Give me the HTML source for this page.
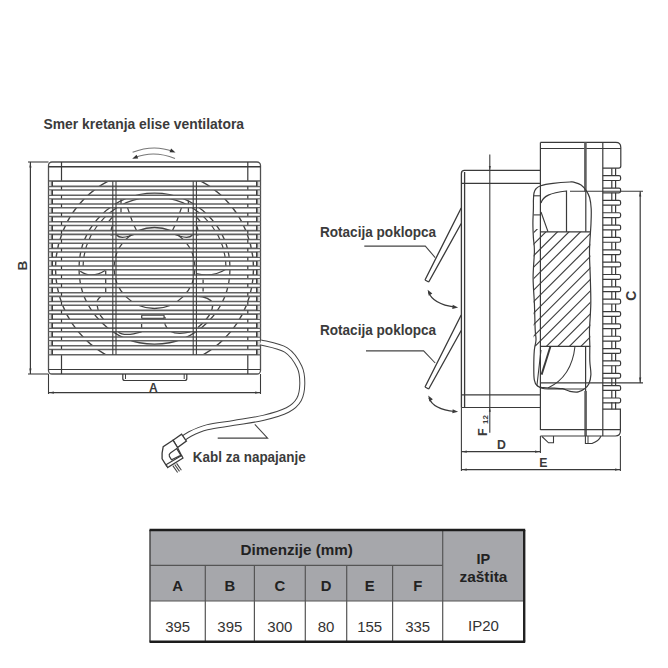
<!DOCTYPE html>
<html><head><meta charset="utf-8"><style>
html,body{margin:0;padding:0;background:#fff;width:668px;height:668px;overflow:hidden}
svg{display:block;font-family:"Liberation Sans",sans-serif}
</style></head><body>
<svg width="668" height="668" viewBox="0 0 668 668">
<clipPath id="slatclip"><rect x="48.5" y="181.20" width="212.0" height="5.15"/><rect x="48.5" y="190.06" width="212.0" height="5.15"/><rect x="48.5" y="198.92" width="212.0" height="5.15"/><rect x="48.5" y="207.78" width="212.0" height="5.15"/><rect x="48.5" y="216.64" width="212.0" height="5.15"/><rect x="48.5" y="225.50" width="212.0" height="5.15"/><rect x="48.5" y="234.36" width="212.0" height="5.15"/><rect x="48.5" y="243.22" width="212.0" height="5.15"/><rect x="48.5" y="252.08" width="212.0" height="5.15"/><rect x="48.5" y="260.94" width="212.0" height="5.15"/><rect x="48.5" y="269.80" width="212.0" height="5.15"/><rect x="48.5" y="278.66" width="212.0" height="5.15"/><rect x="48.5" y="287.52" width="212.0" height="5.15"/><rect x="48.5" y="296.38" width="212.0" height="5.15"/><rect x="48.5" y="305.24" width="212.0" height="5.15"/><rect x="48.5" y="314.10" width="212.0" height="5.15"/><rect x="48.5" y="322.96" width="212.0" height="5.15"/><rect x="48.5" y="331.82" width="212.0" height="5.15"/><rect x="48.5" y="340.68" width="212.0" height="5.15"/><rect x="48.5" y="349.54" width="212.0" height="5.15"/></clipPath>
<g clip-path="url(#slatclip)">
<circle cx="154.5" cy="268.6" r="99" stroke="#444" stroke-width="1.4" fill="none"/>
<circle cx="154.5" cy="268.6" r="75.5" stroke="#444" stroke-width="1.3" fill="none"/>
<path d="M83.0,268.6 A71.5 71.5 0 0 1 226.0,268.6" stroke="#444" stroke-width="1.2" fill="none"/>
<circle cx="154.5" cy="268" r="40.5" stroke="#444" stroke-width="1.3" fill="none"/>
<path d="M121,199 L121,212.5" stroke="#444" stroke-width="1.3" fill="none"/>
<path d="M127.4,207.4 L132.5,222 L136.6,230.7" stroke="#444" stroke-width="1.3" fill="none"/>
<path d="M112.3,225.9 Q110,231 111.3,235.6" stroke="#444" stroke-width="1.3" fill="none"/>
<path d="M112.3,217.1 L108.4,222" stroke="#444" stroke-width="1.3" fill="none"/>
<path d="M116.6,235 Q121,240.5 137.2,233" stroke="#444" stroke-width="1.3" fill="none"/>
<path d="M188.4,200.6 L188.4,212.2" stroke="#444" stroke-width="1.3" fill="none"/>
<path d="M181.6,207.4 L176.5,222 L172.4,230.7" stroke="#444" stroke-width="1.3" fill="none"/>
<path d="M196.7,225.9 Q199,231 197.7,235.6" stroke="#444" stroke-width="1.3" fill="none"/>
<path d="M196.7,217.1 L200.6,222" stroke="#444" stroke-width="1.3" fill="none"/>
<path d="M192.4,235 Q188,240.5 171.8,233" stroke="#444" stroke-width="1.3" fill="none"/>
<path d="M80.2,271.2 Q92,279 105,270.5" stroke="#444" stroke-width="1.3" fill="none"/>
<path d="M105.7,270.5 L105.7,293" stroke="#444" stroke-width="1.3" fill="none"/>
<path d="M97.4,300.4 Q101,294 108,294.4" stroke="#444" stroke-width="1.3" fill="none"/>
<path d="M97.4,300.4 Q96,312 104,320" stroke="#444" stroke-width="1.3" fill="none"/>
<path d="M196.4,273.5 Q212,278 226.3,269" stroke="#444" stroke-width="1.3" fill="none"/>
<path d="M203.1,279.5 L203.1,291.4" stroke="#444" stroke-width="1.3" fill="none"/>
<path d="M196.4,296 Q210,297 212.9,303.4 Q213,315 197.9,327.4" stroke="#444" stroke-width="1.3" fill="none"/>
<path d="M141.7,315.2 L164.1,315.2 M141.7,318.4 L164.1,318.4 M141.7,315.2 L141.7,318.4 M164.1,315.2 L164.1,318.4" stroke="#444" stroke-width="1.3" fill="none"/>
<path d="M118.4,331.9 Q124,337 141.6,331.9" stroke="#444" stroke-width="1.3" fill="none"/>
<path d="M141.6,324 L141.6,332" stroke="#444" stroke-width="1.3" fill="none"/>
<path d="M165,324.4 Q170,337 190.4,331.9" stroke="#444" stroke-width="1.3" fill="none"/>
<path d="M165,316.9 L165,324.4" stroke="#444" stroke-width="1.3" fill="none"/>
</g>
<rect x="48.5" y="162.0" width="212.0" height="212.0" rx="3.5" fill="none" stroke="#505050" stroke-width="1.3"/>
<line x1="48.50" y1="166.80" x2="260.50" y2="166.80" stroke="#3a3a3a" stroke-width="1.44" />
<line x1="48.50" y1="181.20" x2="260.50" y2="181.20" stroke="#3a3a3a" stroke-width="1.2" />
<line x1="48.50" y1="369.50" x2="260.50" y2="369.50" stroke="#3a3a3a" stroke-width="1.2" />
<line x1="61.50" y1="162.00" x2="61.50" y2="181.20" stroke="#3a3a3a" stroke-width="1.2" />
<line x1="61.50" y1="354.69" x2="61.50" y2="374.00" stroke="#3a3a3a" stroke-width="1.2" />
<line x1="247.80" y1="162.00" x2="247.80" y2="181.20" stroke="#3a3a3a" stroke-width="1.2" />
<line x1="247.80" y1="354.69" x2="247.80" y2="374.00" stroke="#3a3a3a" stroke-width="1.2" />
<line x1="48.50" y1="181.20" x2="260.50" y2="181.20" stroke="#626262" stroke-width="1.56" />
<line x1="48.50" y1="186.35" x2="260.50" y2="186.35" stroke="#626262" stroke-width="1.56" />
<rect x="49.00" y="181.70" width="3.00" height="4.15" fill="#d9d9d9" stroke="none" stroke-width="1" rx="0"/>
<line x1="52.20" y1="181.20" x2="52.20" y2="186.35" stroke="#3a3a3a" stroke-width="1.56" />
<rect x="257.00" y="181.70" width="3.00" height="4.15" fill="#d9d9d9" stroke="none" stroke-width="1" rx="0"/>
<line x1="256.80" y1="181.20" x2="256.80" y2="186.35" stroke="#3a3a3a" stroke-width="1.56" />
<line x1="61.50" y1="186.35" x2="61.50" y2="190.06" stroke="#3a3a3a" stroke-width="1.2" />
<line x1="247.80" y1="186.35" x2="247.80" y2="190.06" stroke="#3a3a3a" stroke-width="1.2" />
<line x1="48.50" y1="190.06" x2="260.50" y2="190.06" stroke="#626262" stroke-width="1.56" />
<line x1="48.50" y1="195.21" x2="260.50" y2="195.21" stroke="#626262" stroke-width="1.56" />
<rect x="49.00" y="190.56" width="3.00" height="4.15" fill="#d9d9d9" stroke="none" stroke-width="1" rx="0"/>
<line x1="52.20" y1="190.06" x2="52.20" y2="195.21" stroke="#3a3a3a" stroke-width="1.56" />
<rect x="257.00" y="190.56" width="3.00" height="4.15" fill="#d9d9d9" stroke="none" stroke-width="1" rx="0"/>
<line x1="256.80" y1="190.06" x2="256.80" y2="195.21" stroke="#3a3a3a" stroke-width="1.56" />
<line x1="61.50" y1="195.21" x2="61.50" y2="198.92" stroke="#3a3a3a" stroke-width="1.2" />
<line x1="247.80" y1="195.21" x2="247.80" y2="198.92" stroke="#3a3a3a" stroke-width="1.2" />
<line x1="48.50" y1="198.92" x2="260.50" y2="198.92" stroke="#626262" stroke-width="1.56" />
<line x1="48.50" y1="204.07" x2="260.50" y2="204.07" stroke="#626262" stroke-width="1.56" />
<rect x="49.00" y="199.42" width="3.00" height="4.15" fill="#d9d9d9" stroke="none" stroke-width="1" rx="0"/>
<line x1="52.20" y1="198.92" x2="52.20" y2="204.07" stroke="#3a3a3a" stroke-width="1.56" />
<rect x="257.00" y="199.42" width="3.00" height="4.15" fill="#d9d9d9" stroke="none" stroke-width="1" rx="0"/>
<line x1="256.80" y1="198.92" x2="256.80" y2="204.07" stroke="#3a3a3a" stroke-width="1.56" />
<line x1="61.50" y1="204.07" x2="61.50" y2="207.78" stroke="#3a3a3a" stroke-width="1.2" />
<line x1="247.80" y1="204.07" x2="247.80" y2="207.78" stroke="#3a3a3a" stroke-width="1.2" />
<line x1="48.50" y1="207.78" x2="260.50" y2="207.78" stroke="#626262" stroke-width="1.56" />
<line x1="48.50" y1="212.93" x2="260.50" y2="212.93" stroke="#626262" stroke-width="1.56" />
<rect x="49.00" y="208.28" width="3.00" height="4.15" fill="#d9d9d9" stroke="none" stroke-width="1" rx="0"/>
<line x1="52.20" y1="207.78" x2="52.20" y2="212.93" stroke="#3a3a3a" stroke-width="1.56" />
<rect x="257.00" y="208.28" width="3.00" height="4.15" fill="#d9d9d9" stroke="none" stroke-width="1" rx="0"/>
<line x1="256.80" y1="207.78" x2="256.80" y2="212.93" stroke="#3a3a3a" stroke-width="1.56" />
<line x1="61.50" y1="212.93" x2="61.50" y2="216.64" stroke="#3a3a3a" stroke-width="1.2" />
<line x1="247.80" y1="212.93" x2="247.80" y2="216.64" stroke="#3a3a3a" stroke-width="1.2" />
<line x1="48.50" y1="216.64" x2="260.50" y2="216.64" stroke="#626262" stroke-width="1.56" />
<line x1="48.50" y1="221.79" x2="260.50" y2="221.79" stroke="#626262" stroke-width="1.56" />
<rect x="49.00" y="217.14" width="3.00" height="4.15" fill="#d9d9d9" stroke="none" stroke-width="1" rx="0"/>
<line x1="52.20" y1="216.64" x2="52.20" y2="221.79" stroke="#3a3a3a" stroke-width="1.56" />
<rect x="257.00" y="217.14" width="3.00" height="4.15" fill="#d9d9d9" stroke="none" stroke-width="1" rx="0"/>
<line x1="256.80" y1="216.64" x2="256.80" y2="221.79" stroke="#3a3a3a" stroke-width="1.56" />
<line x1="61.50" y1="221.79" x2="61.50" y2="225.50" stroke="#3a3a3a" stroke-width="1.2" />
<line x1="247.80" y1="221.79" x2="247.80" y2="225.50" stroke="#3a3a3a" stroke-width="1.2" />
<line x1="48.50" y1="225.50" x2="260.50" y2="225.50" stroke="#626262" stroke-width="1.56" />
<line x1="48.50" y1="230.65" x2="260.50" y2="230.65" stroke="#626262" stroke-width="1.56" />
<rect x="49.00" y="226.00" width="3.00" height="4.15" fill="#d9d9d9" stroke="none" stroke-width="1" rx="0"/>
<line x1="52.20" y1="225.50" x2="52.20" y2="230.65" stroke="#3a3a3a" stroke-width="1.56" />
<rect x="257.00" y="226.00" width="3.00" height="4.15" fill="#d9d9d9" stroke="none" stroke-width="1" rx="0"/>
<line x1="256.80" y1="225.50" x2="256.80" y2="230.65" stroke="#3a3a3a" stroke-width="1.56" />
<line x1="61.50" y1="230.65" x2="61.50" y2="234.36" stroke="#3a3a3a" stroke-width="1.2" />
<line x1="247.80" y1="230.65" x2="247.80" y2="234.36" stroke="#3a3a3a" stroke-width="1.2" />
<line x1="48.50" y1="234.36" x2="260.50" y2="234.36" stroke="#626262" stroke-width="1.56" />
<line x1="48.50" y1="239.51" x2="260.50" y2="239.51" stroke="#626262" stroke-width="1.56" />
<rect x="49.00" y="234.86" width="3.00" height="4.15" fill="#d9d9d9" stroke="none" stroke-width="1" rx="0"/>
<line x1="52.20" y1="234.36" x2="52.20" y2="239.51" stroke="#3a3a3a" stroke-width="1.56" />
<rect x="257.00" y="234.86" width="3.00" height="4.15" fill="#d9d9d9" stroke="none" stroke-width="1" rx="0"/>
<line x1="256.80" y1="234.36" x2="256.80" y2="239.51" stroke="#3a3a3a" stroke-width="1.56" />
<line x1="61.50" y1="239.51" x2="61.50" y2="243.22" stroke="#3a3a3a" stroke-width="1.2" />
<line x1="247.80" y1="239.51" x2="247.80" y2="243.22" stroke="#3a3a3a" stroke-width="1.2" />
<line x1="48.50" y1="243.22" x2="260.50" y2="243.22" stroke="#626262" stroke-width="1.56" />
<line x1="48.50" y1="248.37" x2="260.50" y2="248.37" stroke="#626262" stroke-width="1.56" />
<rect x="49.00" y="243.72" width="3.00" height="4.15" fill="#d9d9d9" stroke="none" stroke-width="1" rx="0"/>
<line x1="52.20" y1="243.22" x2="52.20" y2="248.37" stroke="#3a3a3a" stroke-width="1.56" />
<rect x="257.00" y="243.72" width="3.00" height="4.15" fill="#d9d9d9" stroke="none" stroke-width="1" rx="0"/>
<line x1="256.80" y1="243.22" x2="256.80" y2="248.37" stroke="#3a3a3a" stroke-width="1.56" />
<line x1="61.50" y1="248.37" x2="61.50" y2="252.08" stroke="#3a3a3a" stroke-width="1.2" />
<line x1="247.80" y1="248.37" x2="247.80" y2="252.08" stroke="#3a3a3a" stroke-width="1.2" />
<line x1="48.50" y1="252.08" x2="260.50" y2="252.08" stroke="#626262" stroke-width="1.56" />
<line x1="48.50" y1="257.23" x2="260.50" y2="257.23" stroke="#626262" stroke-width="1.56" />
<rect x="49.00" y="252.58" width="3.00" height="4.15" fill="#d9d9d9" stroke="none" stroke-width="1" rx="0"/>
<line x1="52.20" y1="252.08" x2="52.20" y2="257.23" stroke="#3a3a3a" stroke-width="1.56" />
<rect x="257.00" y="252.58" width="3.00" height="4.15" fill="#d9d9d9" stroke="none" stroke-width="1" rx="0"/>
<line x1="256.80" y1="252.08" x2="256.80" y2="257.23" stroke="#3a3a3a" stroke-width="1.56" />
<line x1="61.50" y1="257.23" x2="61.50" y2="260.94" stroke="#3a3a3a" stroke-width="1.2" />
<line x1="247.80" y1="257.23" x2="247.80" y2="260.94" stroke="#3a3a3a" stroke-width="1.2" />
<line x1="48.50" y1="260.94" x2="260.50" y2="260.94" stroke="#626262" stroke-width="1.56" />
<line x1="48.50" y1="266.09" x2="260.50" y2="266.09" stroke="#626262" stroke-width="1.56" />
<rect x="49.00" y="261.44" width="3.00" height="4.15" fill="#d9d9d9" stroke="none" stroke-width="1" rx="0"/>
<line x1="52.20" y1="260.94" x2="52.20" y2="266.09" stroke="#3a3a3a" stroke-width="1.56" />
<rect x="257.00" y="261.44" width="3.00" height="4.15" fill="#d9d9d9" stroke="none" stroke-width="1" rx="0"/>
<line x1="256.80" y1="260.94" x2="256.80" y2="266.09" stroke="#3a3a3a" stroke-width="1.56" />
<line x1="61.50" y1="266.09" x2="61.50" y2="269.80" stroke="#3a3a3a" stroke-width="1.2" />
<line x1="247.80" y1="266.09" x2="247.80" y2="269.80" stroke="#3a3a3a" stroke-width="1.2" />
<line x1="48.50" y1="269.80" x2="260.50" y2="269.80" stroke="#626262" stroke-width="1.56" />
<line x1="48.50" y1="274.95" x2="260.50" y2="274.95" stroke="#626262" stroke-width="1.56" />
<rect x="49.00" y="270.30" width="3.00" height="4.15" fill="#d9d9d9" stroke="none" stroke-width="1" rx="0"/>
<line x1="52.20" y1="269.80" x2="52.20" y2="274.95" stroke="#3a3a3a" stroke-width="1.56" />
<rect x="257.00" y="270.30" width="3.00" height="4.15" fill="#d9d9d9" stroke="none" stroke-width="1" rx="0"/>
<line x1="256.80" y1="269.80" x2="256.80" y2="274.95" stroke="#3a3a3a" stroke-width="1.56" />
<line x1="61.50" y1="274.95" x2="61.50" y2="278.66" stroke="#3a3a3a" stroke-width="1.2" />
<line x1="247.80" y1="274.95" x2="247.80" y2="278.66" stroke="#3a3a3a" stroke-width="1.2" />
<line x1="48.50" y1="278.66" x2="260.50" y2="278.66" stroke="#626262" stroke-width="1.56" />
<line x1="48.50" y1="283.81" x2="260.50" y2="283.81" stroke="#626262" stroke-width="1.56" />
<rect x="49.00" y="279.16" width="3.00" height="4.15" fill="#d9d9d9" stroke="none" stroke-width="1" rx="0"/>
<line x1="52.20" y1="278.66" x2="52.20" y2="283.81" stroke="#3a3a3a" stroke-width="1.56" />
<rect x="257.00" y="279.16" width="3.00" height="4.15" fill="#d9d9d9" stroke="none" stroke-width="1" rx="0"/>
<line x1="256.80" y1="278.66" x2="256.80" y2="283.81" stroke="#3a3a3a" stroke-width="1.56" />
<line x1="61.50" y1="283.81" x2="61.50" y2="287.52" stroke="#3a3a3a" stroke-width="1.2" />
<line x1="247.80" y1="283.81" x2="247.80" y2="287.52" stroke="#3a3a3a" stroke-width="1.2" />
<line x1="48.50" y1="287.52" x2="260.50" y2="287.52" stroke="#626262" stroke-width="1.56" />
<line x1="48.50" y1="292.67" x2="260.50" y2="292.67" stroke="#626262" stroke-width="1.56" />
<rect x="49.00" y="288.02" width="3.00" height="4.15" fill="#d9d9d9" stroke="none" stroke-width="1" rx="0"/>
<line x1="52.20" y1="287.52" x2="52.20" y2="292.67" stroke="#3a3a3a" stroke-width="1.56" />
<rect x="257.00" y="288.02" width="3.00" height="4.15" fill="#d9d9d9" stroke="none" stroke-width="1" rx="0"/>
<line x1="256.80" y1="287.52" x2="256.80" y2="292.67" stroke="#3a3a3a" stroke-width="1.56" />
<line x1="61.50" y1="292.67" x2="61.50" y2="296.38" stroke="#3a3a3a" stroke-width="1.2" />
<line x1="247.80" y1="292.67" x2="247.80" y2="296.38" stroke="#3a3a3a" stroke-width="1.2" />
<line x1="48.50" y1="296.38" x2="260.50" y2="296.38" stroke="#626262" stroke-width="1.56" />
<line x1="48.50" y1="301.53" x2="260.50" y2="301.53" stroke="#626262" stroke-width="1.56" />
<rect x="49.00" y="296.88" width="3.00" height="4.15" fill="#d9d9d9" stroke="none" stroke-width="1" rx="0"/>
<line x1="52.20" y1="296.38" x2="52.20" y2="301.53" stroke="#3a3a3a" stroke-width="1.56" />
<rect x="257.00" y="296.88" width="3.00" height="4.15" fill="#d9d9d9" stroke="none" stroke-width="1" rx="0"/>
<line x1="256.80" y1="296.38" x2="256.80" y2="301.53" stroke="#3a3a3a" stroke-width="1.56" />
<line x1="61.50" y1="301.53" x2="61.50" y2="305.24" stroke="#3a3a3a" stroke-width="1.2" />
<line x1="247.80" y1="301.53" x2="247.80" y2="305.24" stroke="#3a3a3a" stroke-width="1.2" />
<line x1="48.50" y1="305.24" x2="260.50" y2="305.24" stroke="#626262" stroke-width="1.56" />
<line x1="48.50" y1="310.39" x2="260.50" y2="310.39" stroke="#626262" stroke-width="1.56" />
<rect x="49.00" y="305.74" width="3.00" height="4.15" fill="#d9d9d9" stroke="none" stroke-width="1" rx="0"/>
<line x1="52.20" y1="305.24" x2="52.20" y2="310.39" stroke="#3a3a3a" stroke-width="1.56" />
<rect x="257.00" y="305.74" width="3.00" height="4.15" fill="#d9d9d9" stroke="none" stroke-width="1" rx="0"/>
<line x1="256.80" y1="305.24" x2="256.80" y2="310.39" stroke="#3a3a3a" stroke-width="1.56" />
<line x1="61.50" y1="310.39" x2="61.50" y2="314.10" stroke="#3a3a3a" stroke-width="1.2" />
<line x1="247.80" y1="310.39" x2="247.80" y2="314.10" stroke="#3a3a3a" stroke-width="1.2" />
<line x1="48.50" y1="314.10" x2="260.50" y2="314.10" stroke="#626262" stroke-width="1.56" />
<line x1="48.50" y1="319.25" x2="260.50" y2="319.25" stroke="#626262" stroke-width="1.56" />
<rect x="49.00" y="314.60" width="3.00" height="4.15" fill="#d9d9d9" stroke="none" stroke-width="1" rx="0"/>
<line x1="52.20" y1="314.10" x2="52.20" y2="319.25" stroke="#3a3a3a" stroke-width="1.56" />
<rect x="257.00" y="314.60" width="3.00" height="4.15" fill="#d9d9d9" stroke="none" stroke-width="1" rx="0"/>
<line x1="256.80" y1="314.10" x2="256.80" y2="319.25" stroke="#3a3a3a" stroke-width="1.56" />
<line x1="61.50" y1="319.25" x2="61.50" y2="322.96" stroke="#3a3a3a" stroke-width="1.2" />
<line x1="247.80" y1="319.25" x2="247.80" y2="322.96" stroke="#3a3a3a" stroke-width="1.2" />
<line x1="48.50" y1="322.96" x2="260.50" y2="322.96" stroke="#626262" stroke-width="1.56" />
<line x1="48.50" y1="328.11" x2="260.50" y2="328.11" stroke="#626262" stroke-width="1.56" />
<rect x="49.00" y="323.46" width="3.00" height="4.15" fill="#d9d9d9" stroke="none" stroke-width="1" rx="0"/>
<line x1="52.20" y1="322.96" x2="52.20" y2="328.11" stroke="#3a3a3a" stroke-width="1.56" />
<rect x="257.00" y="323.46" width="3.00" height="4.15" fill="#d9d9d9" stroke="none" stroke-width="1" rx="0"/>
<line x1="256.80" y1="322.96" x2="256.80" y2="328.11" stroke="#3a3a3a" stroke-width="1.56" />
<line x1="61.50" y1="328.11" x2="61.50" y2="331.82" stroke="#3a3a3a" stroke-width="1.2" />
<line x1="247.80" y1="328.11" x2="247.80" y2="331.82" stroke="#3a3a3a" stroke-width="1.2" />
<line x1="48.50" y1="331.82" x2="260.50" y2="331.82" stroke="#626262" stroke-width="1.56" />
<line x1="48.50" y1="336.97" x2="260.50" y2="336.97" stroke="#626262" stroke-width="1.56" />
<rect x="49.00" y="332.32" width="3.00" height="4.15" fill="#d9d9d9" stroke="none" stroke-width="1" rx="0"/>
<line x1="52.20" y1="331.82" x2="52.20" y2="336.97" stroke="#3a3a3a" stroke-width="1.56" />
<rect x="257.00" y="332.32" width="3.00" height="4.15" fill="#d9d9d9" stroke="none" stroke-width="1" rx="0"/>
<line x1="256.80" y1="331.82" x2="256.80" y2="336.97" stroke="#3a3a3a" stroke-width="1.56" />
<line x1="61.50" y1="336.97" x2="61.50" y2="340.68" stroke="#3a3a3a" stroke-width="1.2" />
<line x1="247.80" y1="336.97" x2="247.80" y2="340.68" stroke="#3a3a3a" stroke-width="1.2" />
<line x1="48.50" y1="340.68" x2="260.50" y2="340.68" stroke="#626262" stroke-width="1.56" />
<line x1="48.50" y1="345.83" x2="260.50" y2="345.83" stroke="#626262" stroke-width="1.56" />
<rect x="49.00" y="341.18" width="3.00" height="4.15" fill="#d9d9d9" stroke="none" stroke-width="1" rx="0"/>
<line x1="52.20" y1="340.68" x2="52.20" y2="345.83" stroke="#3a3a3a" stroke-width="1.56" />
<rect x="257.00" y="341.18" width="3.00" height="4.15" fill="#d9d9d9" stroke="none" stroke-width="1" rx="0"/>
<line x1="256.80" y1="340.68" x2="256.80" y2="345.83" stroke="#3a3a3a" stroke-width="1.56" />
<line x1="61.50" y1="345.83" x2="61.50" y2="349.54" stroke="#3a3a3a" stroke-width="1.2" />
<line x1="247.80" y1="345.83" x2="247.80" y2="349.54" stroke="#3a3a3a" stroke-width="1.2" />
<line x1="48.50" y1="349.54" x2="260.50" y2="349.54" stroke="#626262" stroke-width="1.56" />
<line x1="48.50" y1="354.69" x2="260.50" y2="354.69" stroke="#626262" stroke-width="1.56" />
<rect x="49.00" y="350.04" width="3.00" height="4.15" fill="#d9d9d9" stroke="none" stroke-width="1" rx="0"/>
<line x1="52.20" y1="349.54" x2="52.20" y2="354.69" stroke="#3a3a3a" stroke-width="1.56" />
<rect x="257.00" y="350.04" width="3.00" height="4.15" fill="#d9d9d9" stroke="none" stroke-width="1" rx="0"/>
<line x1="256.80" y1="349.54" x2="256.80" y2="354.69" stroke="#3a3a3a" stroke-width="1.56" />
<line x1="112.80" y1="181.20" x2="112.80" y2="354.69" stroke="#3a3a3a" stroke-width="1.08" />
<line x1="116.00" y1="181.20" x2="116.00" y2="354.69" stroke="#3a3a3a" stroke-width="1.08" />
<line x1="193.20" y1="181.20" x2="193.20" y2="354.69" stroke="#3a3a3a" stroke-width="1.08" />
<line x1="196.40" y1="181.20" x2="196.40" y2="354.69" stroke="#3a3a3a" stroke-width="1.08" />
<path d="M122.8,374 L122.8,378.5 Q122.8,380.5 124.8,380.5 L184.8,380.5 Q186.8,380.5 186.8,378.5 L186.8,374" stroke="#3a3a3a" stroke-width="1.2" fill="none" />
<line x1="125.50" y1="374.00" x2="125.50" y2="379.00" stroke="#3a3a3a" stroke-width="0.96" />
<line x1="184.20" y1="374.00" x2="184.20" y2="379.00" stroke="#3a3a3a" stroke-width="0.96" />
<line x1="28.00" y1="162.00" x2="48.50" y2="162.00" stroke="#3a3a3a" stroke-width="1.08" />
<line x1="28.00" y1="374.00" x2="48.50" y2="374.00" stroke="#3a3a3a" stroke-width="1.08" />
<line x1="30.40" y1="162.00" x2="30.40" y2="374.00" stroke="#3a3a3a" stroke-width="1.2" />
<path d="M30.40,162.50 L31.49,167.38 L29.31,167.38 Z" fill="#3a3a3a"/>
<path d="M30.40,373.50 L29.31,368.62 L31.49,368.62 Z" fill="#3a3a3a"/>
<line x1="48.50" y1="374.00" x2="48.50" y2="394.00" stroke="#3a3a3a" stroke-width="1.08" />
<line x1="260.50" y1="374.00" x2="260.50" y2="394.00" stroke="#3a3a3a" stroke-width="1.08" />
<line x1="48.50" y1="392.60" x2="260.50" y2="392.60" stroke="#3a3a3a" stroke-width="1.2" />
<path d="M49.00,392.60 L53.88,391.51 L53.88,393.69 Z" fill="#3a3a3a"/>
<path d="M260.00,392.60 L255.12,393.69 L255.12,391.51 Z" fill="#3a3a3a"/>
<text x="153.4" y="392" font-size="12" font-weight="bold" fill="#3a3a3a" text-anchor="middle" >A</text>
<text x="0" y="0" font-size="13.5" font-weight="bold" fill="#3a3a3a" text-anchor="middle" transform="translate(26.6 265.5) rotate(-90)">B</text>
<path d="M132.6,152.3 Q153.8,144 173,151.5" stroke="#777" stroke-width="1.08" fill="none" />
<path d="M175.50,152.60 L169.51,152.30 L171.11,148.51 Z" fill="#333"/>
<path d="M135,157.6 Q153.8,150 175,158.5" stroke="#777" stroke-width="1.08" fill="none" />
<path d="M132.20,158.80 L136.59,154.71 L138.19,158.50 Z" fill="#333"/>
<text x="43.5" y="129.2" font-size="15" font-weight="bold" fill="#3b3b3b" text-anchor="start" textLength="200.5" lengthAdjust="spacingAndGlyphs" >Smer kretanja elise ventilatora</text>
<path d="M260.50,342.30 C264.75,343.58 279.50,345.88 286.00,350.00 C292.50,354.12 296.78,361.37 299.50,367.00 C302.22,372.63 302.38,378.38 302.30,383.80 C302.22,389.22 301.47,395.13 299.00,399.50 C296.53,403.87 293.42,406.95 287.50,410.00 C281.58,413.05 272.43,415.65 263.50,417.80 C254.57,419.95 243.32,421.32 233.90,422.90 C224.48,424.48 214.32,425.45 207.00,427.30 C199.68,429.15 194.50,431.72 190.00,434.00 C185.50,436.28 181.67,439.83 180.00,441.00" stroke="#444" stroke-width="6.0" fill="none" />
<path d="M260.50,342.30 C264.75,343.58 279.50,345.88 286.00,350.00 C292.50,354.12 296.78,361.37 299.50,367.00 C302.22,372.63 302.38,378.38 302.30,383.80 C302.22,389.22 301.47,395.13 299.00,399.50 C296.53,403.87 293.42,406.95 287.50,410.00 C281.58,413.05 272.43,415.65 263.50,417.80 C254.57,419.95 243.32,421.32 233.90,422.90 C224.48,424.48 214.32,425.45 207.00,427.30 C199.68,429.15 194.50,431.72 190.00,434.00 C185.50,436.28 181.67,439.83 180.00,441.00" stroke="#fff" stroke-width="4.0" fill="none" />
<path d="M173,440.2 L181.6,434.2 L186.4,441 L177.5,447.5 Z" stroke="#3a3a3a" stroke-width="1.32" fill="#fff" />
<path d="M173,440.2 L163.2,446.6 Q161.6,453 162.1,458.9 L166.6,466 L181.8,456.2 L177.5,447.5 Z" stroke="#3a3a3a" stroke-width="1.32" fill="#fff" />
<path d="M166.4,464.6 L181.6,455.6 L183,458 L167.6,467.6 Z" stroke="#3a3a3a" stroke-width="1.2" fill="#fff" />
<path d="M171.6,459.8 L169.4,456.4 Q168.6,454.4 170.4,453 L176.7,448.6 L180.8,455.2 Z" stroke="#3a3a3a" stroke-width="1.2" fill="none" />
<line x1="172.80" y1="465.60" x2="177.60" y2="472.50" stroke="#444" stroke-width="1.08" />
<line x1="174.70" y1="464.50" x2="179.50" y2="471.40" stroke="#444" stroke-width="1.08" />
<line x1="176.60" y1="463.40" x2="181.40" y2="470.30" stroke="#444" stroke-width="1.08" />
<path d="M217.7,438.1 L267.6,438.1 L254.8,424.3" stroke="#444" stroke-width="1.08" fill="none" />
<text x="192.8" y="461.9" font-size="14.3" font-weight="bold" fill="#3b3b3b" text-anchor="start" textLength="113" lengthAdjust="spacingAndGlyphs" >Kabl za napajanje</text>
<path d="M461.4,407.5 L461.4,173.5 Q461.4,170.4 464.5,170.4 L540.4,170.4" stroke="#3a3a3a" stroke-width="1.32" fill="none" />
<line x1="464.60" y1="172.00" x2="464.60" y2="407.50" stroke="#3a3a3a" stroke-width="1.32" />
<line x1="461.40" y1="183.30" x2="540.40" y2="183.30" stroke="#3a3a3a" stroke-width="1.2" />
<line x1="461.40" y1="394.90" x2="540.40" y2="394.90" stroke="#3a3a3a" stroke-width="1.2" />
<line x1="461.40" y1="407.50" x2="540.40" y2="407.50" stroke="#3a3a3a" stroke-width="1.2" />
<line x1="540.40" y1="142.40" x2="540.40" y2="430.00" stroke="#3a3a3a" stroke-width="1.2" />
<path d="M540.4,142.4 L615.8,142.4 Q620.8,142.4 620.8,147.4 L620.8,166 Q620.8,168.2 618.6,168.2 L602.8,168.2" stroke="#3a3a3a" stroke-width="1.2" fill="none" />
<line x1="540.40" y1="148.50" x2="620.80" y2="148.50" stroke="#3a3a3a" stroke-width="1.2" />
<line x1="585.40" y1="142.40" x2="585.40" y2="191.50" stroke="#606060" stroke-width="2.64" />
<line x1="585.80" y1="191.50" x2="585.80" y2="231.80" stroke="#3a3a3a" stroke-width="1.2" />
<line x1="585.60" y1="346.30" x2="585.60" y2="391.00" stroke="#3a3a3a" stroke-width="1.2" />
<line x1="585.60" y1="391.00" x2="585.60" y2="436.00" stroke="#606060" stroke-width="2.64" />
<line x1="602.80" y1="142.40" x2="602.80" y2="436.00" stroke="#3a3a3a" stroke-width="1.2" />
<path d="M602.8,175.70 L619,175.70 Q620.6,175.70 620.6,177.20 L620.6,179.00 Q620.6,180.50 619,180.50 L602.8,180.50" stroke="#3a3a3a" stroke-width="1.2" fill="none" />
<line x1="611.80" y1="180.50" x2="611.80" y2="188.05" stroke="#3a3a3a" stroke-width="1.2" />
<line x1="615.60" y1="180.50" x2="615.60" y2="188.05" stroke="#3a3a3a" stroke-width="1.2" />
<path d="M602.8,188.05 L619,188.05 Q620.6,188.05 620.6,189.55 L620.6,191.35 Q620.6,192.85 619,192.85 L602.8,192.85" stroke="#3a3a3a" stroke-width="1.2" fill="none" />
<line x1="611.80" y1="192.85" x2="611.80" y2="200.40" stroke="#3a3a3a" stroke-width="1.2" />
<line x1="615.60" y1="192.85" x2="615.60" y2="200.40" stroke="#3a3a3a" stroke-width="1.2" />
<path d="M602.8,200.40 L619,200.40 Q620.6,200.40 620.6,201.90 L620.6,203.70 Q620.6,205.20 619,205.20 L602.8,205.20" stroke="#3a3a3a" stroke-width="1.2" fill="none" />
<line x1="611.80" y1="205.20" x2="611.80" y2="212.75" stroke="#3a3a3a" stroke-width="1.2" />
<line x1="615.60" y1="205.20" x2="615.60" y2="212.75" stroke="#3a3a3a" stroke-width="1.2" />
<path d="M602.8,212.75 L619,212.75 Q620.6,212.75 620.6,214.25 L620.6,216.05 Q620.6,217.55 619,217.55 L602.8,217.55" stroke="#3a3a3a" stroke-width="1.2" fill="none" />
<line x1="611.80" y1="217.55" x2="611.80" y2="225.10" stroke="#3a3a3a" stroke-width="1.2" />
<line x1="615.60" y1="217.55" x2="615.60" y2="225.10" stroke="#3a3a3a" stroke-width="1.2" />
<path d="M602.8,225.10 L619,225.10 Q620.6,225.10 620.6,226.60 L620.6,228.40 Q620.6,229.90 619,229.90 L602.8,229.90" stroke="#3a3a3a" stroke-width="1.2" fill="none" />
<line x1="611.80" y1="229.90" x2="611.80" y2="237.45" stroke="#3a3a3a" stroke-width="1.2" />
<line x1="615.60" y1="229.90" x2="615.60" y2="237.45" stroke="#3a3a3a" stroke-width="1.2" />
<path d="M602.8,237.45 L619,237.45 Q620.6,237.45 620.6,238.95 L620.6,240.75 Q620.6,242.25 619,242.25 L602.8,242.25" stroke="#3a3a3a" stroke-width="1.2" fill="none" />
<line x1="611.80" y1="242.25" x2="611.80" y2="249.80" stroke="#3a3a3a" stroke-width="1.2" />
<line x1="615.60" y1="242.25" x2="615.60" y2="249.80" stroke="#3a3a3a" stroke-width="1.2" />
<path d="M602.8,249.80 L619,249.80 Q620.6,249.80 620.6,251.30 L620.6,253.10 Q620.6,254.60 619,254.60 L602.8,254.60" stroke="#3a3a3a" stroke-width="1.2" fill="none" />
<line x1="611.80" y1="254.60" x2="611.80" y2="262.15" stroke="#3a3a3a" stroke-width="1.2" />
<line x1="615.60" y1="254.60" x2="615.60" y2="262.15" stroke="#3a3a3a" stroke-width="1.2" />
<path d="M602.8,262.15 L619,262.15 Q620.6,262.15 620.6,263.65 L620.6,265.45 Q620.6,266.95 619,266.95 L602.8,266.95" stroke="#3a3a3a" stroke-width="1.2" fill="none" />
<line x1="611.80" y1="266.95" x2="611.80" y2="274.50" stroke="#3a3a3a" stroke-width="1.2" />
<line x1="615.60" y1="266.95" x2="615.60" y2="274.50" stroke="#3a3a3a" stroke-width="1.2" />
<path d="M602.8,274.50 L619,274.50 Q620.6,274.50 620.6,276.00 L620.6,277.80 Q620.6,279.30 619,279.30 L602.8,279.30" stroke="#3a3a3a" stroke-width="1.2" fill="none" />
<line x1="611.80" y1="279.30" x2="611.80" y2="286.85" stroke="#3a3a3a" stroke-width="1.2" />
<line x1="615.60" y1="279.30" x2="615.60" y2="286.85" stroke="#3a3a3a" stroke-width="1.2" />
<path d="M602.8,286.85 L619,286.85 Q620.6,286.85 620.6,288.35 L620.6,290.15 Q620.6,291.65 619,291.65 L602.8,291.65" stroke="#3a3a3a" stroke-width="1.2" fill="none" />
<line x1="611.80" y1="291.65" x2="611.80" y2="299.20" stroke="#3a3a3a" stroke-width="1.2" />
<line x1="615.60" y1="291.65" x2="615.60" y2="299.20" stroke="#3a3a3a" stroke-width="1.2" />
<path d="M602.8,299.20 L619,299.20 Q620.6,299.20 620.6,300.70 L620.6,302.50 Q620.6,304.00 619,304.00 L602.8,304.00" stroke="#3a3a3a" stroke-width="1.2" fill="none" />
<line x1="611.80" y1="304.00" x2="611.80" y2="311.55" stroke="#3a3a3a" stroke-width="1.2" />
<line x1="615.60" y1="304.00" x2="615.60" y2="311.55" stroke="#3a3a3a" stroke-width="1.2" />
<path d="M602.8,311.55 L619,311.55 Q620.6,311.55 620.6,313.05 L620.6,314.85 Q620.6,316.35 619,316.35 L602.8,316.35" stroke="#3a3a3a" stroke-width="1.2" fill="none" />
<line x1="611.80" y1="316.35" x2="611.80" y2="323.90" stroke="#3a3a3a" stroke-width="1.2" />
<line x1="615.60" y1="316.35" x2="615.60" y2="323.90" stroke="#3a3a3a" stroke-width="1.2" />
<path d="M602.8,323.90 L619,323.90 Q620.6,323.90 620.6,325.40 L620.6,327.20 Q620.6,328.70 619,328.70 L602.8,328.70" stroke="#3a3a3a" stroke-width="1.2" fill="none" />
<line x1="611.80" y1="328.70" x2="611.80" y2="336.25" stroke="#3a3a3a" stroke-width="1.2" />
<line x1="615.60" y1="328.70" x2="615.60" y2="336.25" stroke="#3a3a3a" stroke-width="1.2" />
<path d="M602.8,336.25 L619,336.25 Q620.6,336.25 620.6,337.75 L620.6,339.55 Q620.6,341.05 619,341.05 L602.8,341.05" stroke="#3a3a3a" stroke-width="1.2" fill="none" />
<line x1="611.80" y1="341.05" x2="611.80" y2="348.60" stroke="#3a3a3a" stroke-width="1.2" />
<line x1="615.60" y1="341.05" x2="615.60" y2="348.60" stroke="#3a3a3a" stroke-width="1.2" />
<path d="M602.8,348.60 L619,348.60 Q620.6,348.60 620.6,350.10 L620.6,351.90 Q620.6,353.40 619,353.40 L602.8,353.40" stroke="#3a3a3a" stroke-width="1.2" fill="none" />
<line x1="611.80" y1="353.40" x2="611.80" y2="360.95" stroke="#3a3a3a" stroke-width="1.2" />
<line x1="615.60" y1="353.40" x2="615.60" y2="360.95" stroke="#3a3a3a" stroke-width="1.2" />
<path d="M602.8,360.95 L619,360.95 Q620.6,360.95 620.6,362.45 L620.6,364.25 Q620.6,365.75 619,365.75 L602.8,365.75" stroke="#3a3a3a" stroke-width="1.2" fill="none" />
<line x1="611.80" y1="365.75" x2="611.80" y2="373.30" stroke="#3a3a3a" stroke-width="1.2" />
<line x1="615.60" y1="365.75" x2="615.60" y2="373.30" stroke="#3a3a3a" stroke-width="1.2" />
<path d="M602.8,373.30 L619,373.30 Q620.6,373.30 620.6,374.80 L620.6,376.60 Q620.6,378.10 619,378.10 L602.8,378.10" stroke="#3a3a3a" stroke-width="1.2" fill="none" />
<line x1="611.80" y1="378.10" x2="611.80" y2="385.65" stroke="#3a3a3a" stroke-width="1.2" />
<line x1="615.60" y1="378.10" x2="615.60" y2="385.65" stroke="#3a3a3a" stroke-width="1.2" />
<path d="M602.8,385.65 L619,385.65 Q620.6,385.65 620.6,387.15 L620.6,388.95 Q620.6,390.45 619,390.45 L602.8,390.45" stroke="#3a3a3a" stroke-width="1.2" fill="none" />
<line x1="611.80" y1="390.45" x2="611.80" y2="398.00" stroke="#3a3a3a" stroke-width="1.2" />
<line x1="615.60" y1="390.45" x2="615.60" y2="398.00" stroke="#3a3a3a" stroke-width="1.2" />
<path d="M602.8,398.00 L619,398.00 Q620.6,398.00 620.6,399.50 L620.6,401.30 Q620.6,402.80 619,402.80 L602.8,402.80" stroke="#3a3a3a" stroke-width="1.2" fill="none" />
<line x1="611.80" y1="168.20" x2="611.80" y2="175.70" stroke="#3a3a3a" stroke-width="1.2" />
<line x1="615.60" y1="168.20" x2="615.60" y2="175.70" stroke="#3a3a3a" stroke-width="1.2" />
<line x1="611.80" y1="402.20" x2="611.80" y2="409.20" stroke="#3a3a3a" stroke-width="1.2" />
<line x1="615.60" y1="402.20" x2="615.60" y2="409.20" stroke="#3a3a3a" stroke-width="1.2" />
<path d="M602.8,409.2 L620.4,409.2 L620.4,431 Q620.4,436 615.4,436 L540.4,436" stroke="#3a3a3a" stroke-width="1.2" fill="none" />
<line x1="540.40" y1="429.60" x2="620.40" y2="429.60" stroke="#3a3a3a" stroke-width="1.2" />
<path d="M542,436.5 L548.5,442.8 L553.5,442.8 L553.5,436" stroke="#3a3a3a" stroke-width="1.08" fill="none" />
<path d="M585.4,436 L585.4,443.5 L592,443.5 Q599,441 601,436" stroke="#3a3a3a" stroke-width="1.08" fill="none" />
<line x1="588.00" y1="436.00" x2="588.00" y2="443.50" stroke="#3a3a3a" stroke-width="0.96" />
<line x1="489.80" y1="154.40" x2="489.80" y2="432.70" stroke="#3a3a3a" stroke-width="1.08" />
<path d="M489.80,170.00 L488.81,166.12 L490.79,166.12 Z" fill="#3a3a3a"/>
<path d="M489.80,407.80 L490.79,411.68 L488.81,411.68 Z" fill="#3a3a3a"/>
<path d="M533.40,200.80 C533.50,199.50 533.53,195.05 534.00,193.00 C534.47,190.95 535.08,189.72 536.20,188.50 C537.32,187.28 537.90,186.55 540.70,185.70 C543.50,184.85 548.13,184.02 553.00,183.40 C557.87,182.78 566.33,182.18 569.90,182.00 C573.47,181.82 572.53,181.78 574.40,182.30 C576.27,182.82 579.13,183.70 581.10,185.10 C583.07,186.50 584.78,188.63 586.20,190.70 C587.62,192.77 588.77,194.50 589.60,197.50 C590.43,200.50 590.97,204.40 591.20,208.70 C591.43,213.00 591.28,216.25 591.00,223.30 C590.72,230.35 589.62,241.97 589.50,251.00 C589.38,260.03 590.08,268.72 590.30,277.50 C590.52,286.28 590.93,294.95 590.80,303.70 C590.67,312.45 589.67,323.08 589.50,330.00 C589.33,336.92 589.75,340.03 589.80,345.20 C589.85,350.37 589.62,356.10 589.80,361.00 C589.98,365.90 591.07,370.77 590.90,374.60 C590.73,378.43 589.85,381.65 588.80,384.00 C587.75,386.35 586.35,387.38 584.60,388.70 C582.85,390.02 580.75,391.47 578.30,391.90 C575.85,392.33 572.52,391.83 569.90,391.30 C567.28,390.77 565.22,389.22 562.60,388.70 C559.98,388.18 557.35,388.37 554.20,388.20 C551.05,388.03 546.50,388.05 543.70,387.70 C540.90,387.35 538.97,387.42 537.40,386.10 C535.83,384.78 534.90,383.12 534.30,379.80 C533.70,376.48 533.80,371.08 533.80,366.20 C533.80,361.32 533.93,354.87 534.30,350.50 C534.67,346.13 535.85,343.42 536.00,340.00 C536.15,336.58 535.47,336.05 535.20,330.00 C534.93,323.95 534.75,312.45 534.40,303.70 C534.05,294.95 533.10,286.28 533.10,277.50 C533.10,268.72 534.35,257.60 534.40,251.00 C534.45,244.40 533.65,242.52 533.40,237.90 C533.15,233.28 532.90,228.17 532.90,223.30 C532.90,218.43 533.32,212.45 533.40,208.70 C533.48,204.95 533.40,202.12 533.40,200.80" stroke="#3a3a3a" stroke-width="1.2" fill="none" />
<clipPath id="hatch"><path d="M533.6,229 L540.4,229 L540.4,231.8 L590.3,231.8 L590.3,346.3 L533.6,346.3 Z"/></clipPath>
<g clip-path="url(#hatch)">
<line x1="520.00" y1="211.80" x2="600.00" y2="131.80" stroke="#3a3a3a" stroke-width="1.14" />
<line x1="520.00" y1="223.30" x2="600.00" y2="143.30" stroke="#3a3a3a" stroke-width="1.14" />
<line x1="520.00" y1="234.80" x2="600.00" y2="154.80" stroke="#3a3a3a" stroke-width="1.14" />
<line x1="520.00" y1="246.30" x2="600.00" y2="166.30" stroke="#3a3a3a" stroke-width="1.14" />
<line x1="520.00" y1="257.80" x2="600.00" y2="177.80" stroke="#3a3a3a" stroke-width="1.14" />
<line x1="520.00" y1="269.30" x2="600.00" y2="189.30" stroke="#3a3a3a" stroke-width="1.14" />
<line x1="520.00" y1="280.80" x2="600.00" y2="200.80" stroke="#3a3a3a" stroke-width="1.14" />
<line x1="520.00" y1="292.30" x2="600.00" y2="212.30" stroke="#3a3a3a" stroke-width="1.14" />
<line x1="520.00" y1="303.80" x2="600.00" y2="223.80" stroke="#3a3a3a" stroke-width="1.14" />
<line x1="520.00" y1="315.30" x2="600.00" y2="235.30" stroke="#3a3a3a" stroke-width="1.14" />
<line x1="520.00" y1="326.80" x2="600.00" y2="246.80" stroke="#3a3a3a" stroke-width="1.14" />
<line x1="520.00" y1="338.30" x2="600.00" y2="258.30" stroke="#3a3a3a" stroke-width="1.14" />
<line x1="520.00" y1="349.80" x2="600.00" y2="269.80" stroke="#3a3a3a" stroke-width="1.14" />
<line x1="520.00" y1="361.30" x2="600.00" y2="281.30" stroke="#3a3a3a" stroke-width="1.14" />
<line x1="520.00" y1="372.80" x2="600.00" y2="292.80" stroke="#3a3a3a" stroke-width="1.14" />
<line x1="520.00" y1="384.30" x2="600.00" y2="304.30" stroke="#3a3a3a" stroke-width="1.14" />
<line x1="520.00" y1="395.80" x2="600.00" y2="315.80" stroke="#3a3a3a" stroke-width="1.14" />
<line x1="520.00" y1="407.30" x2="600.00" y2="327.30" stroke="#3a3a3a" stroke-width="1.14" />
<line x1="520.00" y1="418.80" x2="600.00" y2="338.80" stroke="#3a3a3a" stroke-width="1.14" />
<line x1="520.00" y1="430.30" x2="600.00" y2="350.30" stroke="#3a3a3a" stroke-width="1.14" />
<line x1="520.00" y1="441.80" x2="600.00" y2="361.80" stroke="#3a3a3a" stroke-width="1.14" />
<line x1="520.00" y1="453.30" x2="600.00" y2="373.30" stroke="#3a3a3a" stroke-width="1.14" />
<line x1="520.00" y1="464.80" x2="600.00" y2="384.80" stroke="#3a3a3a" stroke-width="1.14" />
<line x1="520.00" y1="476.30" x2="600.00" y2="396.30" stroke="#3a3a3a" stroke-width="1.14" />
</g>
<line x1="540.40" y1="231.80" x2="590.30" y2="231.80" stroke="#3a3a3a" stroke-width="1.2" />
<line x1="540.40" y1="346.30" x2="590.30" y2="346.30" stroke="#3a3a3a" stroke-width="1.2" />
<path d="M541,203 C543,196 550,193 566.5,191 L566.5,232" stroke="#3a3a3a" stroke-width="1.2" fill="none" />
<line x1="541.00" y1="212.00" x2="548.00" y2="231.80" stroke="#3a3a3a" stroke-width="1.08" />
<line x1="533.60" y1="195.80" x2="540.40" y2="195.80" stroke="#3a3a3a" stroke-width="1.08" />
<line x1="533.60" y1="214.90" x2="540.40" y2="214.90" stroke="#3a3a3a" stroke-width="1.08" />
<path d="M541,350 L537,385 Q540,389 548,389 L584,389" stroke="#3a3a3a" stroke-width="1.08" fill="none" />
<path d="M575,346.3 C573,365 565,380 548,388" stroke="#3a3a3a" stroke-width="1.08" fill="none" />
<line x1="550.50" y1="346.30" x2="541.60" y2="374.60" stroke="#3a3a3a" stroke-width="1.92" />
<line x1="570.00" y1="191.20" x2="643.00" y2="191.20" stroke="#3a3a3a" stroke-width="1.08" />
<line x1="540.40" y1="382.90" x2="643.00" y2="382.90" stroke="#3a3a3a" stroke-width="1.08" />
<line x1="640.20" y1="191.20" x2="640.20" y2="382.90" stroke="#3a3a3a" stroke-width="1.2" />
<path d="M640.20,191.70 L641.29,196.58 L639.11,196.58 Z" fill="#3a3a3a"/>
<path d="M640.20,382.40 L639.11,377.52 L641.29,377.52 Z" fill="#3a3a3a"/>
<text x="0" y="0" font-size="14" font-weight="bold" fill="#3a3a3a" text-anchor="middle" transform="translate(636 295.8) rotate(-90)">C</text>
<line x1="461.40" y1="407.50" x2="461.40" y2="471.00" stroke="#3a3a3a" stroke-width="1.08" />
<line x1="540.40" y1="436.00" x2="540.40" y2="453.00" stroke="#3a3a3a" stroke-width="1.08" />
<line x1="620.40" y1="436.00" x2="620.40" y2="471.00" stroke="#3a3a3a" stroke-width="1.08" />
<line x1="461.40" y1="451.70" x2="540.40" y2="451.70" stroke="#3a3a3a" stroke-width="1.2" />
<path d="M461.90,451.70 L466.78,450.61 L466.78,452.79 Z" fill="#3a3a3a"/>
<path d="M539.90,451.70 L535.02,452.79 L535.02,450.61 Z" fill="#3a3a3a"/>
<line x1="461.40" y1="469.60" x2="620.40" y2="469.60" stroke="#3a3a3a" stroke-width="1.2" />
<path d="M461.90,469.60 L466.78,468.51 L466.78,470.69 Z" fill="#3a3a3a"/>
<path d="M619.90,469.60 L615.02,470.69 L615.02,468.51 Z" fill="#3a3a3a"/>
<text x="501.4" y="448.8" font-size="12.3" font-weight="bold" fill="#3a3a3a" text-anchor="middle" >D</text>
<text x="543.3" y="467.2" font-size="12.3" font-weight="bold" fill="#3a3a3a" text-anchor="middle" >E</text>
<text x="0" y="0" font-size="12.5" font-weight="bold" fill="#3a3a3a" text-anchor="middle" transform="translate(486.6 432.3) rotate(-90)">F</text>
<text x="0" y="0" font-size="8" font-weight="bold" fill="#3a3a3a" text-anchor="middle" transform="translate(488.3 419.5) rotate(-90)">12</text>
<path d="M425,280 L461.2,208 M428.7,282 L461.2,223.5 M425,280 L428.7,282" stroke="#3a3a3a" stroke-width="1.32" fill="none" />
<path d="M425,387 L461.2,315 M428.7,389 L461.2,330.5 M425,387 L428.7,389" stroke="#3a3a3a" stroke-width="1.32" fill="none" />
<path d="M428.5,292 C431,299 440,305 455,307.2" stroke="#3a3a3a" stroke-width="1.2" fill="none" />
<path d="M427.60,289.80 L432.30,293.53 L428.79,295.68 Z" fill="#3a3a3a"/>
<path d="M458.10,307.40 L452.29,308.88 L452.70,304.79 Z" fill="#3a3a3a"/>
<path d="M429,398 C431.5,405 440,410 455,411.5" stroke="#3a3a3a" stroke-width="1.2" fill="none" />
<path d="M428.20,395.60 L432.90,399.33 L429.39,401.48 Z" fill="#3a3a3a"/>
<path d="M458.10,411.80 L452.29,413.28 L452.70,409.19 Z" fill="#3a3a3a"/>
<path d="M364.3,246.1 L425.3,246.1 L435.2,257.6" stroke="#444" stroke-width="1.08" fill="none" />
<path d="M366,350.9 L423.6,350.9 L435.2,363" stroke="#444" stroke-width="1.08" fill="none" />
<text x="319.9" y="237.2" font-size="14.3" font-weight="bold" fill="#3b3b3b" text-anchor="start" textLength="116.3" lengthAdjust="spacingAndGlyphs" >Rotacija poklopca</text>
<text x="319.9" y="335.0" font-size="14.3" font-weight="bold" fill="#3b3b3b" text-anchor="start" textLength="116.3" lengthAdjust="spacingAndGlyphs" >Rotacija poklopca</text>
<rect x="150.00" y="530.00" width="292.70" height="71.00" fill="#a6a7ab" stroke="none" stroke-width="1" rx="0"/>
<rect x="442.70" y="530.00" width="81.50" height="71.00" fill="#a6a7ab" stroke="none" stroke-width="1" rx="0"/>
<line x1="150.00" y1="565.40" x2="442.70" y2="565.40" stroke="#555" stroke-width="1.2" />
<line x1="150.00" y1="601.00" x2="524.20" y2="601.00" stroke="#555" stroke-width="1.2" />
<line x1="205.30" y1="565.40" x2="205.30" y2="641.70" stroke="#555" stroke-width="1.2" />
<line x1="254.40" y1="565.40" x2="254.40" y2="641.70" stroke="#555" stroke-width="1.2" />
<line x1="305.30" y1="565.40" x2="305.30" y2="641.70" stroke="#555" stroke-width="1.2" />
<line x1="346.70" y1="565.40" x2="346.70" y2="641.70" stroke="#555" stroke-width="1.2" />
<line x1="392.60" y1="565.40" x2="392.60" y2="641.70" stroke="#555" stroke-width="1.2" />
<line x1="442.70" y1="530.00" x2="442.70" y2="641.70" stroke="#555" stroke-width="1.2" />
<line x1="150.00" y1="530.00" x2="150.00" y2="641.70" stroke="#444" stroke-width="1.44" />
<line x1="524.20" y1="530.00" x2="524.20" y2="641.70" stroke="#222" stroke-width="2.4" />
<line x1="149.50" y1="530.00" x2="525.20" y2="530.00" stroke="#1c1c1c" stroke-width="2.4" />
<line x1="149.50" y1="641.70" x2="525.20" y2="641.70" stroke="#1c1c1c" stroke-width="2.4" />
<text x="296.7" y="555" font-size="14.5" font-weight="bold" fill="#222" text-anchor="middle" textLength="112.5" lengthAdjust="spacingAndGlyphs" >Dimenzije (mm)</text>
<text x="177.65" y="590.6" font-size="14.8" font-weight="bold" fill="#222" text-anchor="middle" >A</text>
<text x="177.65" y="631.5" font-size="15" font-weight="normal" fill="#333" text-anchor="middle" >395</text>
<text x="229.85000000000002" y="590.6" font-size="14.8" font-weight="bold" fill="#222" text-anchor="middle" >B</text>
<text x="229.85000000000002" y="631.5" font-size="15" font-weight="normal" fill="#333" text-anchor="middle" >395</text>
<text x="279.85" y="590.6" font-size="14.8" font-weight="bold" fill="#222" text-anchor="middle" >C</text>
<text x="279.85" y="631.5" font-size="15" font-weight="normal" fill="#333" text-anchor="middle" >300</text>
<text x="326.0" y="590.6" font-size="14.8" font-weight="bold" fill="#222" text-anchor="middle" >D</text>
<text x="326.0" y="631.5" font-size="15" font-weight="normal" fill="#333" text-anchor="middle" >80</text>
<text x="369.65" y="590.6" font-size="14.8" font-weight="bold" fill="#222" text-anchor="middle" >E</text>
<text x="369.65" y="631.5" font-size="15" font-weight="normal" fill="#333" text-anchor="middle" >155</text>
<text x="417.65" y="590.6" font-size="14.8" font-weight="bold" fill="#222" text-anchor="middle" >F</text>
<text x="417.65" y="631.5" font-size="15" font-weight="normal" fill="#333" text-anchor="middle" >335</text>
<text x="483.45000000000005" y="563.5" font-size="14.5" font-weight="bold" fill="#222" text-anchor="middle" >IP</text>
<text x="483.45000000000005" y="581.5" font-size="14.5" font-weight="bold" fill="#222" text-anchor="middle" textLength="48" lengthAdjust="spacingAndGlyphs" >zaštita</text>
<text x="483.45000000000005" y="630.5" font-size="15" font-weight="normal" fill="#333" text-anchor="middle" >IP20</text>
</svg>
</body></html>
